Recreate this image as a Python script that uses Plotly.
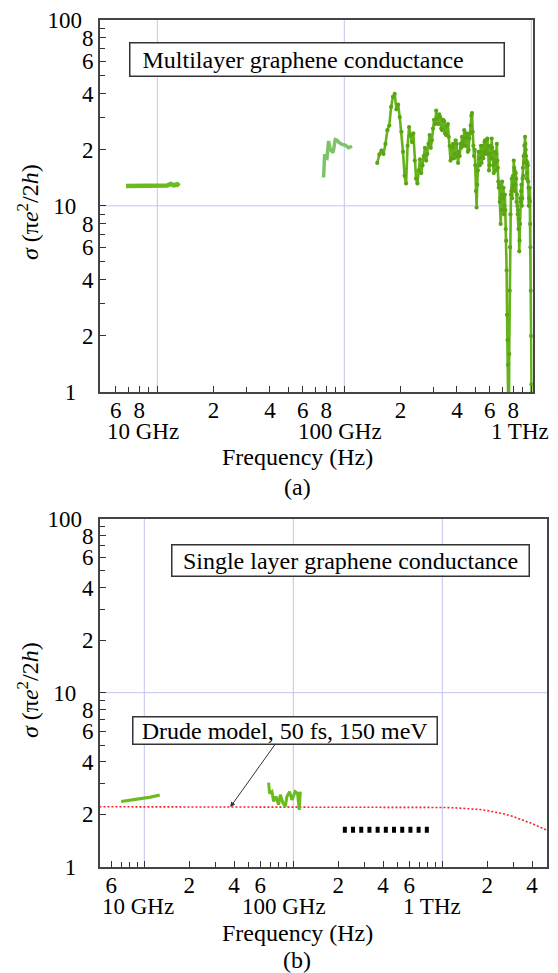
import plotly.graph_objects as go

FONT = "Liberation Serif, Times New Roman, DejaVu Serif, serif"

# ---------------- (a) multilayer graphene ----------------
mw_freq_ghz = [6.8, 7.3, 7.8, 8.3, 8.8, 9.3, 9.8, 10.3, 10.8, 11.3, 11.8, 12.3, 12.8, 13.1]
mw_sigma = [12.8, 12.8, 12.85, 12.8, 12.8, 12.85, 12.8, 12.75, 12.9, 12.85, 13.1, 12.9, 13.05, 12.8]

wg_freq_ghz = [77.5, 77.7, 78.0, 78.5, 79.5, 80.8, 82.4, 84.1, 87.0, 89.5, 91.5, 93.3, 97.2, 101.0, 105.5, 110.0]
wg_sigma = [14.2, 16.0, 18.0, 18.9, 18.3, 18.1, 22.3, 20.1, 19.3, 22.7, 22.5, 22.0, 21.4, 21.2, 20.5, 20.9]

thz_freq_ghz = [
    150, 154, 158, 162, 166, 170, 174, 178, 182, 186, 190, 194, 198, 202, 206, 210, 214, 218, 222, 226,
    230, 234, 238, 242, 246, 250, 254, 258, 262, 266, 270, 274, 278, 282, 286, 290, 294, 298, 302, 306,
    310, 314, 318, 322, 326, 330, 334, 338, 342, 346, 350, 354, 358, 362, 366, 370, 374, 378, 382, 386,
    390, 394, 398, 402, 406, 410, 414, 418, 422, 426, 430, 434, 438, 442, 446, 450, 454, 458, 462, 466,
    470, 474, 478, 482, 486, 490, 494, 498, 502, 506, 510, 514, 518, 522, 526, 530, 534, 538, 542, 546,
    550, 554, 558, 562, 566, 570, 574, 578, 582, 586, 590, 594, 598, 602, 606, 610, 614, 618, 622, 626,
    630, 634, 638, 642, 646, 650, 654, 658, 662, 666, 670, 674, 678, 682, 686, 690, 694, 698, 702, 706,
    710, 714, 718, 722, 726, 730, 734, 738, 742, 746, 750, 754, 758, 762, 766, 770, 774, 778, 782, 786,
    790, 794, 798, 802, 806, 810, 814, 818, 822, 826, 830, 834, 838, 842, 846, 850, 854, 858, 862, 866,
    870, 874, 878, 882, 886, 890, 894, 898, 902, 906, 910, 914, 918, 922, 926, 930, 934, 938, 942, 946,
    950, 954, 958, 962, 966, 970, 974, 978, 982, 986, 990, 994, 998, 1002, 1006,
]
thz_sigma = [
    17.0, 18.9, 19.8, 19.0, 21.5, 25.5, 27.0, 34.0, 38.5, 40.0, 33.0, 35.0, 30.0, 25.0, 19.5, 14.5, 13.2, 21.0, 26.5, 24.0,
    22.0, 24.5, 17.5, 14.0, 13.2, 15.5, 17.8, 15.0, 16.5, 18.5, 20.5, 17.5, 19.0, 21.5, 24.0, 20.5, 22.5, 26.0, 29.0, 27.5,
    32.5, 29.5, 27.5, 31.0, 30.0, 26.0, 25.5, 29.0, 28.5, 24.5, 24.0, 27.0, 27.5, 23.5, 21.0, 17.5, 18.0, 20.5, 21.5, 18.0,
    19.0, 22.5, 21.5, 18.5, 17.0, 19.5, 18.5, 21.5, 20.5, 23.5, 22.0, 21.0, 25.5, 23.0, 21.0, 24.5, 23.5, 19.5, 20.0, 23.0,
    24.5, 27.0, 30.5, 31.5, 25.0, 21.0, 18.5, 20.0, 16.5, 12.0, 9.8, 13.0, 15.5, 19.5, 18.0, 16.5, 19.5, 21.0, 17.0, 18.5,
    21.0, 18.0, 19.5, 22.0, 22.5, 19.0, 20.0, 22.5, 23.0, 21.0, 19.0, 15.5, 16.5, 19.0, 21.0, 18.0, 23.0, 20.5, 18.0, 16.5,
    15.0, 17.5, 19.5, 15.5, 17.0, 19.0, 21.5, 17.5, 16.0, 13.5, 12.5, 13.0, 10.5, 11.0, 8.0, 9.5, 11.5, 13.5, 9.5, 11.0,
    12.5, 9.0, 10.0, 11.5, 9.5, 7.5, 6.5, 4.5, 2.6, 1.9, 1.4, 0.9, 0.5, 1.6, 3.5, 6.0, 9.0, 11.5, 12.0, 14.0,
    11.0, 12.5, 14.5, 13.0, 17.5, 16.0, 15.5, 12.0, 13.0, 15.0, 14.0, 10.5, 11.5, 10.0, 9.0, 9.5, 7.5, 8.5, 5.7, 6.5,
    8.0, 11.0, 10.5, 12.0, 13.0, 10.0, 11.0, 14.0, 16.0, 14.5, 18.5, 17.0, 21.0, 19.0, 23.5, 21.5, 20.0, 18.5, 17.5, 14.0,
    15.0, 17.0, 16.5, 13.5, 12.5, 10.0, 11.0, 12.5, 10.6, 8.0, 6.0, 3.5, 2.0, 1.1, 0.6,
]

# ---------------- (b) single layer graphene ----------------
sl_mw_freq_ghz = [7.0, 9.0, 11.0, 12.7]
sl_mw_sigma = [2.37, 2.44, 2.51, 2.58]

sl_wg_freq_ghz = [68.3, 69.3, 71.9, 73.8, 76.5, 79.7, 81.8, 85.3, 88.4, 90.6, 94.4, 97.9, 103.0, 106.8, 109.6, 111.4]
sl_wg_sigma = [3.04, 2.64, 2.70, 2.37, 2.53, 2.27, 2.59, 2.32, 2.22, 2.53, 2.70, 2.42, 2.70, 2.64, 2.12, 2.70]

drude_freq_ghz = [5, 10, 20, 50, 100, 200, 500, 1000, 1200, 1500, 1800, 2000, 2300, 2600, 3000, 3300, 3600, 4000, 4400, 4800, 5200]
drude_sigma = [2.21, 2.21, 2.21, 2.21, 2.21, 2.21, 2.20, 2.19, 2.18, 2.16, 2.13, 2.10, 2.06, 2.01, 1.94, 1.89, 1.83, 1.77, 1.71, 1.65, 1.60]

dc_freq_ghz = [215, 865]
dc_sigma = [1.63, 1.63]

# axis tick values (GHz) and labels
a_major_ghz = [6, 8, 10, 20, 40, 60, 80, 100, 200, 400, 600, 800, 1000]
a_major_text = ["6", "8", "", "2", "4", "6", "8", "", "2", "4", "6", "8", ""]
a_minor_ghz = [5, 7, 9, 30, 50, 70, 90, 300, 500, 700, 900]

b_major_ghz = [6, 10, 20, 40, 60, 100, 200, 400, 600, 1000, 2000, 4000]
b_major_text = ["6", "", "2", "4", "6", "", "2", "4", "6", "", "2", "4"]
b_minor_ghz = [7, 8, 9, 30, 50, 70, 80, 90, 300, 500, 700, 800, 900, 3000, 5000]

y_major = [1, 2, 4, 6, 8, 10, 20, 40, 60, 80, 100]
y_major_text = ["1&nbsp;&nbsp;&nbsp;", "2", "4", "6", "8", "10&nbsp;&nbsp;&nbsp;",
                "2", "4", "6", "8", "100&nbsp;&nbsp;"]
y_minor = [3, 5, 7, 9, 30, 50, 70, 90]

decade_labels = ["10 GHz", "100 GHz", "1 THz"]
decade_log = [10, 11, 12]


def hz(ghz):
    return [g * 1e9 for g in ghz]


fig = go.Figure()

# (a)
fig.add_trace(go.Scatter(x=hz(mw_freq_ghz), y=mw_sigma, mode="lines",
                         line=dict(color="#6cbb1e", width=4.5), xaxis="x", yaxis="y"))
fig.add_trace(go.Scatter(x=hz(wg_freq_ghz), y=wg_sigma, mode="lines",
                         line=dict(color="#7cc36a", width=3.5), xaxis="x", yaxis="y"))
fig.add_trace(go.Scatter(x=hz(thz_freq_ghz), y=thz_sigma, mode="lines+markers",
                         line=dict(color="#66b21a", width=2.6),
                         marker=dict(color="#5aa514", size=4.2), xaxis="x", yaxis="y"))

# (b)
fig.add_trace(go.Scatter(x=hz(drude_freq_ghz), y=drude_sigma, mode="lines",
                         line=dict(color="#ff2020", width=1.6, dash="2px,2px"), xaxis="x2", yaxis="y2"))
fig.add_trace(go.Scatter(x=hz(sl_mw_freq_ghz), y=sl_mw_sigma, mode="lines",
                         line=dict(color="#6cbb1e", width=3.2), xaxis="x2", yaxis="y2"))
fig.add_trace(go.Scatter(x=hz(sl_wg_freq_ghz), y=sl_wg_sigma, mode="lines",
                         line=dict(color="#6cbb1e", width=3.0), xaxis="x2", yaxis="y2"))
fig.add_trace(go.Scatter(x=hz(dc_freq_ghz), y=dc_sigma, mode="lines",
                         line=dict(color="black", width=6, dash="4px,4.2px"), xaxis="x2", yaxis="y2"))

tickfont = dict(family=FONT, size=23, color="black")
common = dict(type="log", showline=True, linecolor="#444", linewidth=1.6, mirror=True,
              ticks="inside", ticklen=6, tickwidth=1.2, tickcolor="#333",
              showgrid=False, zeroline=False, tickfont=tickfont, automargin=False,
              tickmode="array")
minor_common = dict(ticks="inside", ticklen=5, tickwidth=1.2, tickcolor="#333", showgrid=False)

fig.update_layout(
    width=558, height=973, margin=dict(l=0, r=0, t=0, b=0),
    paper_bgcolor="white", plot_bgcolor="white", showlegend=False,
    font=dict(family=FONT),
    xaxis=dict(domain=[100 / 558, 532.7 / 558], range=[9.6936, 12.0075], anchor="y",
               tickvals=hz(a_major_ghz), ticktext=a_major_text, ticklabelstandoff=-3,
               minor=dict(tickvals=hz(a_minor_ghz), **minor_common), **common),
    yaxis=dict(domain=[1 - 392 / 973, 1 - 19.7 / 973], range=[0, 2], anchor="x",
               tickvals=y_major, ticktext=y_major_text,
               minor=dict(tickvals=y_minor, **minor_common), **common),
    xaxis2=dict(domain=[100 / 558, 547.3 / 558], range=[9.7027, 12.7047], anchor="y2",
                tickvals=hz(b_major_ghz), ticktext=b_major_text, ticklabelstandoff=-3,
                minor=dict(tickvals=hz(b_minor_ghz), **minor_common), **common),
    yaxis2=dict(domain=[1 - 866.7 / 973, 1 - 518.6 / 973], range=[0, 2], anchor="x2",
                tickvals=y_major, ticktext=y_major_text,
                minor=dict(tickvals=y_minor, **minor_common), **common),
)

# decade grid lines
grid = dict(color="#c4c4ee", width=1)
shapes = []
for xa, ya in (("x", "y"), ("x2", "y2")):
    for d in decade_log:
        shapes.append(dict(type="line", xref=xa, yref=ya + " domain", x0=10 ** d, x1=10 ** d,
                           y0=0, y1=1, line=grid, layer="below"))
    shapes.append(dict(type="line", xref=xa + " domain", yref=ya, x0=0, x1=1, y0=10, y1=10,
                       line=grid, layer="below"))
fig.update_layout(shapes=shapes)

txt = dict(family=FONT, size=24, color="black")
ann = []
# decade labels under the digit row
for xa, ya, shifts in (("x", "y", (-14, -4, -11)), ("x2", "y2", (-6, -9, -10))):
    for d, lab, s in zip(decade_log, decade_labels, shifts):
        ann.append(dict(text=lab, xref=xa, yref=ya + " domain", x=d, y=0, xshift=s, yshift=-40,
                        showarrow=False, font=dict(family=FONT, size=23, color="black"),
                        xanchor="center", yanchor="middle"))

for ycen in (457, 933):
    ann.append(dict(text="Frequency (Hz)", xref="paper", yref="paper", x=297.5 / 558, y=1 - ycen / 973,
                    showarrow=False, font=txt, xanchor="center", yanchor="middle"))
for lab, ycen in (("(a)", 487), ("(b)", 960)):
    ann.append(dict(text=lab, xref="paper", yref="paper", x=297 / 558, y=1 - ycen / 973,
                    showarrow=False, font=txt, xanchor="center", yanchor="middle"))
for ycen in (212, 690):
    ann.append(dict(text="<i>σ</i> (π<i>e</i><sup>2</sup>/2<i>h</i>)", xref="paper", yref="paper",
                    x=28 / 558, y=1 - ycen / 973, textangle=-90, showarrow=False, font=txt,
                    xanchor="center", yanchor="middle"))

box = dict(bordercolor="#333", borderwidth=1.5, bgcolor="white", borderpad=0, font=txt)
ann.append(dict(text="&nbsp;&nbsp;Multilayer graphene conductance", xref="paper", yref="paper",
                x=317 / 558, y=1 - 59 / 973, width=373, height=32, align="left",
                showarrow=False, xanchor="center", yanchor="middle", **box))
ann.append(dict(text="Single layer graphene conductance", xref="paper", yref="paper",
                x=350.3 / 558, y=1 - 560.2 / 973, width=356, height=30, align="center",
                showarrow=False, xanchor="center", yanchor="middle", **box))
ann.append(dict(text="Drude model, 50 fs, 150 meV", xref="x2", yref="y2",
                x=10.577, y=0.3424, ax=55, ay=-77, width=303, height=26, align="center",
                showarrow=True, arrowhead=2, arrowsize=1, arrowwidth=1, arrowcolor="#333",
                standoff=0, **box))
fig.update_layout(annotations=ann)

fig.write_html("out.html")
